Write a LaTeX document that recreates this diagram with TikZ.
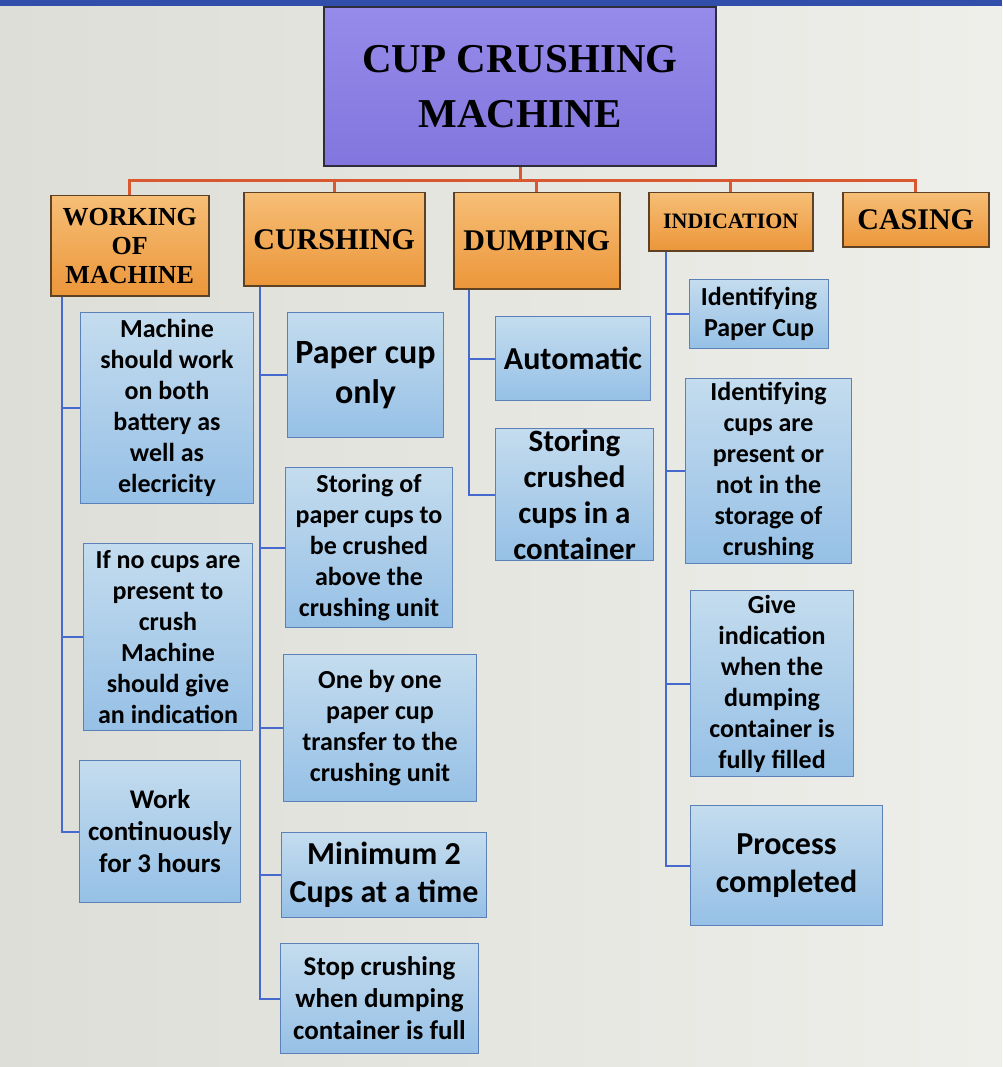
\documentclass[tikz,border=0pt]{standalone}
\usepackage{fontspec}
\setmainfont{Carlito}
\newfontfamily\headfont{Liberation Serif}
\definecolor{bgL}{RGB}{222,222,216}
\definecolor{bgR}{RGB}{238,238,234}
\definecolor{topbar}{RGB}{48,78,170}
\definecolor{titleT}{RGB}{150,138,234}
\definecolor{titleB}{RGB}{130,118,222}
\definecolor{titleE}{RGB}{45,45,60}
\definecolor{orT}{RGB}{246,190,118}
\definecolor{orB}{RGB}{236,150,58}
\definecolor{orE}{RGB}{95,65,35}
\definecolor{blT}{RGB}{196,220,238}
\definecolor{blB}{RGB}{150,192,230}
\definecolor{blE}{RGB}{92,128,184}
\definecolor{blLine}{RGB}{70,105,205}
\definecolor{orLine}{RGB}{216,88,48}
\tikzset{
  titlebox/.style={draw=titleE,line width=2pt,top color=titleT,bottom color=titleB,anchor=north west,inner sep=0pt,align=center,font=\headfont\bfseries\fontsize{41}{55}\selectfont},
  orangebox/.style={draw=orE,line width=1.5pt,top color=orT,bottom color=orB,anchor=north west,inner sep=0pt,align=center},
  bluebox/.style={draw=blE,line width=1pt,top color=blT,bottom color=blB,anchor=north west,inner sep=0pt,align=center,font=\bfseries\fontsize{26}{31}\selectfont},
  blueline/.style={draw=blLine,line width=2pt},
  orangeline/.style={draw=orLine,line width=3pt},
  hsmall/.style={font=\headfont\bfseries\fontsize{26}{29}\selectfont},
  hbig/.style={font=\headfont\bfseries\fontsize{30}{32}\selectfont},
  tbig/.style={font=\bfseries\fontsize{32}{38}\selectfont},
}
\begin{document}
\begin{tikzpicture}[x=1pt,y=-1pt]
\useasboundingbox (0,0) rectangle (1002,1067);
\shade[left color=bgL,right color=bgR] (0,0) rectangle (1002,1067);
\fill[topbar] (0,0) rectangle (1002,6);
% title
\node[titlebox,minimum width=392,minimum height=159] (title) at (323,6) {CUP CRUSHING\\MACHINE};
% level 1
\node[orangebox,hsmall,minimum width=158,minimum height=100] (wom) at (50,195) {WORKING\\OF\\MACHINE};
\node[orangebox,hbig,minimum width=181,minimum height=93] (cru) at (243,192) {CURSHING};
\node[orangebox,hbig,minimum width=166,minimum height=96] (dum) at (453,192) {DUMPING};
\node[orangebox,font=\headfont\bfseries\fontsize{22}{24}\selectfont,minimum width=164,minimum height=58] (ind) at (648,192) {INDICATION};
\node[orangebox,hbig,minimum width=146,minimum height=54] (cas) at (842,192) {CASING};
\coordinate (bus) at (520,181);
\draw[orangeline] (title.south) -- (bus);
\foreach \n in {wom,cru,dum,ind,cas} \draw[orangeline] (bus) -| (\n.north);
% working
\node[bluebox,minimum width=173,minimum height=191] (w1) at (80,312) {Machine\\should work\\on both\\battery as\\well as\\elecricity};
\node[bluebox,minimum width=169,minimum height=187] (w2) at (83,543) {If no cups are\\present to\\crush\\Machine\\should give\\an indication};
\node[bluebox,font=\bfseries\fontsize{27}{32}\selectfont,minimum width=161,minimum height=142] (w3) at (79,760) {Work\\continuously\\for 3 hours};
% crushing
\node[bluebox,font=\bfseries\fontsize{34}{40}\selectfont,minimum width=156,minimum height=125] (c1) at (287,312) {Paper cup\\only};
\node[bluebox,minimum width=167,minimum height=160] (c2) at (285,467) {Storing of\\paper cups to\\be crushed\\above the\\crushing unit};
\node[bluebox,minimum width=193,minimum height=147] (c3) at (283,654) {One by one\\paper cup\\transfer to the\\crushing unit};
\node[bluebox,tbig,minimum width=205,minimum height=85] (c4) at (281,832) {Minimum 2\\Cups at a time};
\node[bluebox,font=\bfseries\fontsize{27}{32}\selectfont,minimum width=198,minimum height=110] (c5) at (280,943) {Stop crushing\\when dumping\\container is full};
% dumping
\node[bluebox,font=\bfseries\fontsize{32}{36}\selectfont,minimum width=155,minimum height=84] (d1) at (495,316) {Automatic};
\node[bluebox,font=\bfseries\fontsize{31}{36}\selectfont,minimum width=158,minimum height=132] (d2) at (495,428) {Storing\\crushed\\cups in a\\container};
% indication
\node[bluebox,minimum width=139,minimum height=69] (i1) at (689,279) {Identifying\\Paper Cup};
\node[bluebox,minimum width=166,minimum height=185] (i2) at (685,378) {Identifying\\cups are\\present or\\not in the\\storage of\\crushing};
\node[bluebox,minimum width=163,minimum height=186] (i3) at (690,590) {Give\\indication\\when the\\dumping\\container is\\fully filled};
\node[bluebox,tbig,minimum width=192,minimum height=120] (i4) at (690,805) {Process\\completed};
% trunks
\foreach \n in {w1,w2,w3} \draw[blueline] (wom.south west) ++(12,0) |- (\n.west);
\foreach \n in {c1,c2,c3,c4,c5} \draw[blueline] (cru.south west) ++(17,0) |- (\n.west);
\foreach \n in {d1,d2} \draw[blueline] (dum.south west) ++(16,0) |- (\n.west);
\foreach \n in {i1,i2,i3,i4} \draw[blueline] (ind.south west) ++(18,0) |- (\n.west);
\end{tikzpicture}
\end{document}
